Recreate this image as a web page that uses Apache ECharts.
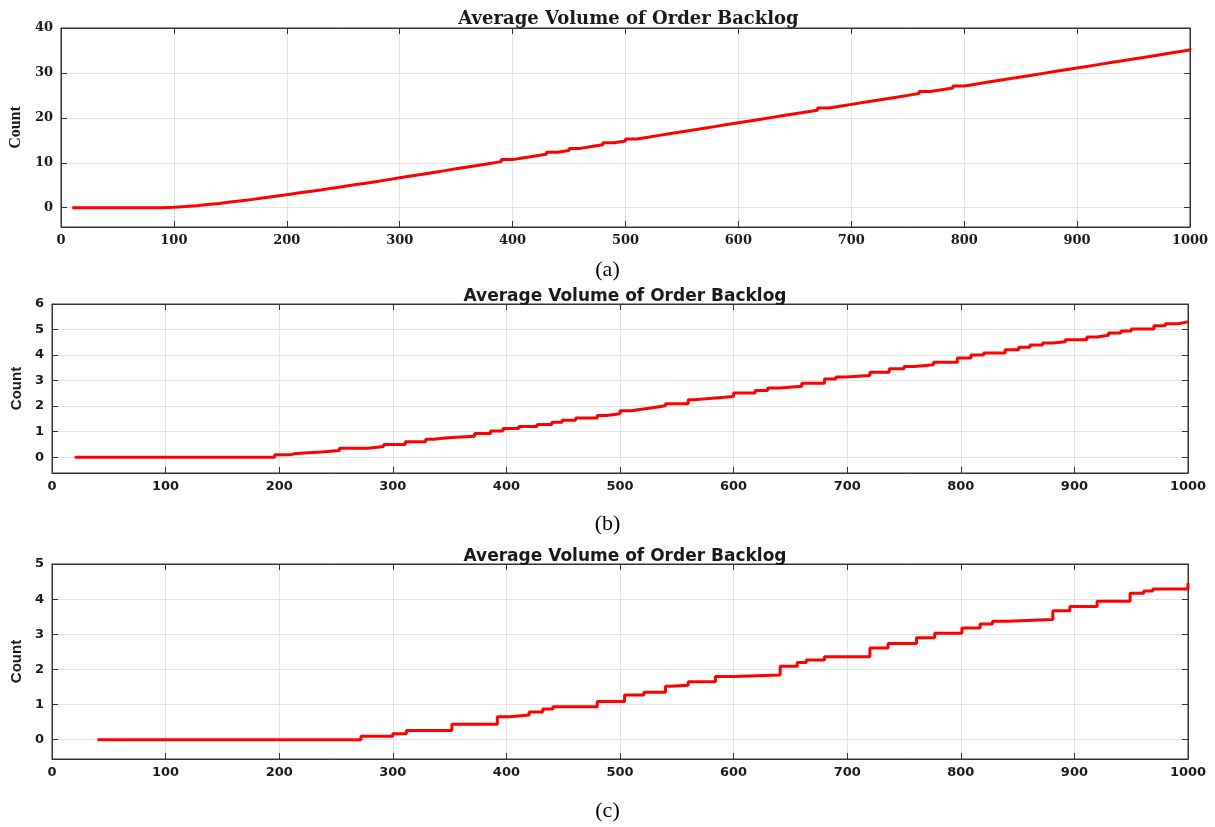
<!DOCTYPE html>
<html><head><meta charset="utf-8">
<script src="https://cdn.jsdelivr.net/npm/echarts@6/dist/echarts.min.js"></script>
<style>html,body{margin:0;padding:0;background:#fff}#c{width:1215px;height:827px}</style>
</head><body><div id="c"></div><script>
// ---------- data ----------
const chartTitle = 'Average Volume of Order Backlog';
const yName = 'Count';
const captions = ['(a)', '(b)', '(c)'];
const xTickValues = [0, 100, 200, 300, 400, 500, 600, 700, 800, 900, 1000];

// panel (a): step positions and levels
const backlogA_x = [10, 90, 100, 110, 120, 130, 140, 150, 160, 170, 180, 190, 200, 210, 220, 230, 240, 250, 260, 270, 280, 290, 300,
  310, 320, 330, 340, 350, 360, 370, 380, 390, 400, 410, 420, 430, 440, 450, 460, 470, 480, 490, 500,
  510, 520, 530, 540, 550, 560, 570, 580, 590, 600, 610, 620, 630, 640, 650, 660, 670, 680, 690, 700,
  710, 720, 730, 740, 750, 760, 770, 780, 790, 800, 810, 820, 830, 840, 850, 860, 870, 880, 890, 900,
  910, 920, 930, 940, 950, 960, 970, 980, 990, 1000];
const backlogA_y = [0, 0.1, 0.25, 0.45, 0.7, 0.95, 1.25, 1.55, 1.85, 2.2, 2.55, 2.9, 3.25, 3.6, 3.95, 4.35, 4.7, 5.1, 5.45, 5.85, 6.25, 6.65, 7.05,
  7.45, 7.85, 8.25, 8.65, 9.05, 9.45, 9.85, 10.25, 10.7, 11.1, 11.5, 11.9, 12.35, 12.75, 13.2, 13.6, 14.0, 14.45, 14.85, 15.3,
  15.7, 16.1, 16.5, 16.9, 17.3, 17.7, 18.1, 18.5, 18.9, 19.3, 19.7, 20.1, 20.5, 20.9, 21.3, 21.7, 22.2, 22.6, 23.0, 23.4,
  23.8, 24.2, 24.6, 25.0, 25.4, 25.85, 26.25, 26.65, 27.1, 27.5, 27.9, 28.3, 28.7, 29.1, 29.5, 29.9, 30.3, 30.7, 31.1, 31.5,
  31.9, 32.3, 32.7, 33.1, 33.5, 33.9, 34.3, 34.7, 35.1, 35.5];

// panel (b)
const backlogB_x = [20, 196, 209, 215, 237, 253, 278, 292, 311, 329, 336, 348, 372, 386, 397, 411, 427, 440, 449, 461, 480, 488, 500,
  510, 519, 530, 540, 560, 565, 581, 600, 619, 630, 641, 660, 680, 690, 699, 720, 737, 750, 759, 776, 797, 809, 820,
  839, 851, 861, 872, 881, 892, 911, 920, 930, 941, 950, 970, 980, 991, 1000];
const backlogB_y = [0, 0.09, 0.14, 0.2, 0.26, 0.35, 0.42, 0.5, 0.6, 0.7, 0.76, 0.82, 0.93, 1.03, 1.12, 1.2, 1.28, 1.37, 1.45, 1.53, 1.63, 1.70, 1.82,
  1.88, 1.95, 2.01, 2.09, 2.25, 2.31, 2.38, 2.51, 2.61, 2.71, 2.78, 2.9, 3.06, 3.14, 3.2, 3.33, 3.46, 3.55, 3.62, 3.72, 3.88, 4.0, 4.08,
  4.21, 4.31, 4.39, 4.47, 4.52, 4.6, 4.71, 4.78, 4.86, 4.94, 5.02, 5.15, 5.23, 5.3, 5.32];

// panel (c)
const backlogC_x = [40, 272, 300, 312, 352, 392, 403, 420, 432, 441, 480, 504, 521, 540, 545, 560, 584, 600, 641, 656, 664, 680,
  720, 736, 761, 777, 801, 817, 828, 841, 881, 896, 920, 949, 961, 969, 1000];
const backlogC_y = [0, 0.1, 0.17, 0.26, 0.44, 0.65, 0.7, 0.79, 0.87, 0.94, 1.09, 1.27, 1.35, 1.52, 1.55, 1.65, 1.80, 1.84, 2.09, 2.2, 2.27, 2.36,
  2.61, 2.74, 2.9, 3.03, 3.18, 3.29, 3.37, 3.42, 3.67, 3.79, 3.94, 4.17, 4.23, 4.29, 4.46];

// y-axis extents
const yMinA = -4.3, yMaxA = 40;
const yMinB = -0.62, yMaxB = 6;
const yMinC = -0.55, yMaxC = 5;

// ---------- layout / style ----------
const panels = [
  { x: backlogA_x, y: backlogA_y, ymin: yMinA, ymax: yMaxA, split: 5,
    grid: { left: 57, top: 28, width: 1133, height: 199 },
    tickFont: 'DejaVu Serif', titleFont: 'DejaVu Serif', titleSize: 18, titleY: 14,
    nameFont: 'Liberation Serif', nameWeight: 'bold', nameSize: 16, nameGap: 33, capY: 271 },
  { x: backlogB_x, y: backlogB_y, ymin: yMinB, ymax: yMaxB, split: 7,
    grid: { left: 52, top: 304, width: 1136, height: 169 },
    tickFont: 'DejaVu Sans', titleFont: 'DejaVu Sans', titleSize: 17, titleY: 292,
    nameFont: 'Liberation Sans', nameWeight: 'bold', nameSize: 15, nameGap: 25, capY: 525 },
  { x: backlogC_x, y: backlogC_y, ymin: yMinC, ymax: yMaxC, split: 6,
    grid: { left: 52, top: 564, width: 1136, height: 195 },
    tickFont: 'DejaVu Sans', titleFont: 'DejaVu Sans', titleSize: 17, titleY: 552,
    nameFont: 'Liberation Sans', nameWeight: 'bold', nameSize: 15, nameGap: 25, capY: 812 }
];

const frameColor = '#333333';
const gridColor = '#e3e3e3';
const textColor = '#1a1a1a';

const option = { animation: false, backgroundColor: '#fff', grid: [], xAxis: [], yAxis: [], series: [], title: [], graphic: [] };

panels.forEach((p, i) => {
  option.grid.push(Object.assign({ show: true, borderColor: frameColor, borderWidth: 1, backgroundColor: '#fff' }, p.grid));
  const tickLabel = { color: textColor, fontFamily: p.tickFont, fontWeight: 'bold', fontSize: 13 };
  const line = { show: true, onZero: false, lineStyle: { color: frameColor, width: 1 } };
  const tick = { show: true, inside: true, length: 6, lineStyle: { color: frameColor } };
  // bottom x
  option.xAxis.push({ type: 'value', gridIndex: i, position: 'bottom', min: xTickValues[0], max: xTickValues[xTickValues.length - 1], interval: 100,
    axisLine: line, axisTick: tick,
    axisLabel: Object.assign({ margin: 7, formatter: v => String(v) }, tickLabel),
    splitLine: { show: true, lineStyle: { color: gridColor, width: 1 } } });
  // top x
  option.xAxis.push({ type: 'value', gridIndex: i, position: 'top', min: xTickValues[0], max: xTickValues[xTickValues.length - 1], interval: 100,
    axisLine: line, axisTick: tick, axisLabel: { show: false }, splitLine: { show: false } });
  // left y
  option.yAxis.push({ type: 'value', gridIndex: i, position: 'left', min: p.ymin, max: p.ymax, splitNumber: p.split,
    name: yName, nameLocation: 'middle', nameGap: p.nameGap,
    nameTextStyle: { color: textColor, fontFamily: p.nameFont, fontWeight: p.nameWeight, fontSize: p.nameSize },
    axisLine: line, axisTick: tick,
    axisLabel: Object.assign({ margin: 8, showMinLabel: false, formatter: v => String(v) }, tickLabel),
    splitLine: { show: true, lineStyle: { color: gridColor, width: 1 } } });
  // right y
  option.yAxis.push({ type: 'value', gridIndex: i, position: 'right', min: p.ymin, max: p.ymax, splitNumber: p.split,
    axisLine: line, axisTick: tick, axisLabel: { show: false }, splitLine: { show: false } });

  option.series.push({ type: 'line', xAxisIndex: 2 * i, yAxisIndex: 2 * i, step: 'end', showSymbol: false, symbol: 'none',
    lineStyle: { color: '#ff0000', width: 3 }, itemStyle: { color: '#ff0000' },
    data: p.x.map((v, k) => [v, p.y[k]]) });

  option.title.push({ text: chartTitle, left: p.grid.left + p.grid.width / 2, top: p.titleY, textAlign: 'center', textVerticalAlign: 'middle',
    textStyle: { color: textColor, fontFamily: p.titleFont, fontWeight: 'bold', fontSize: p.titleSize } });

  option.graphic.push({ type: 'text', left: 'center', top: p.capY - 12, z: 10,
    style: { text: captions[i], fill: '#000', font: '22px "Liberation Serif"' } });
});

const chart = echarts.init(document.getElementById('c'), null, { renderer: 'canvas' });
chart.setOption(option);
</script></body></html>
